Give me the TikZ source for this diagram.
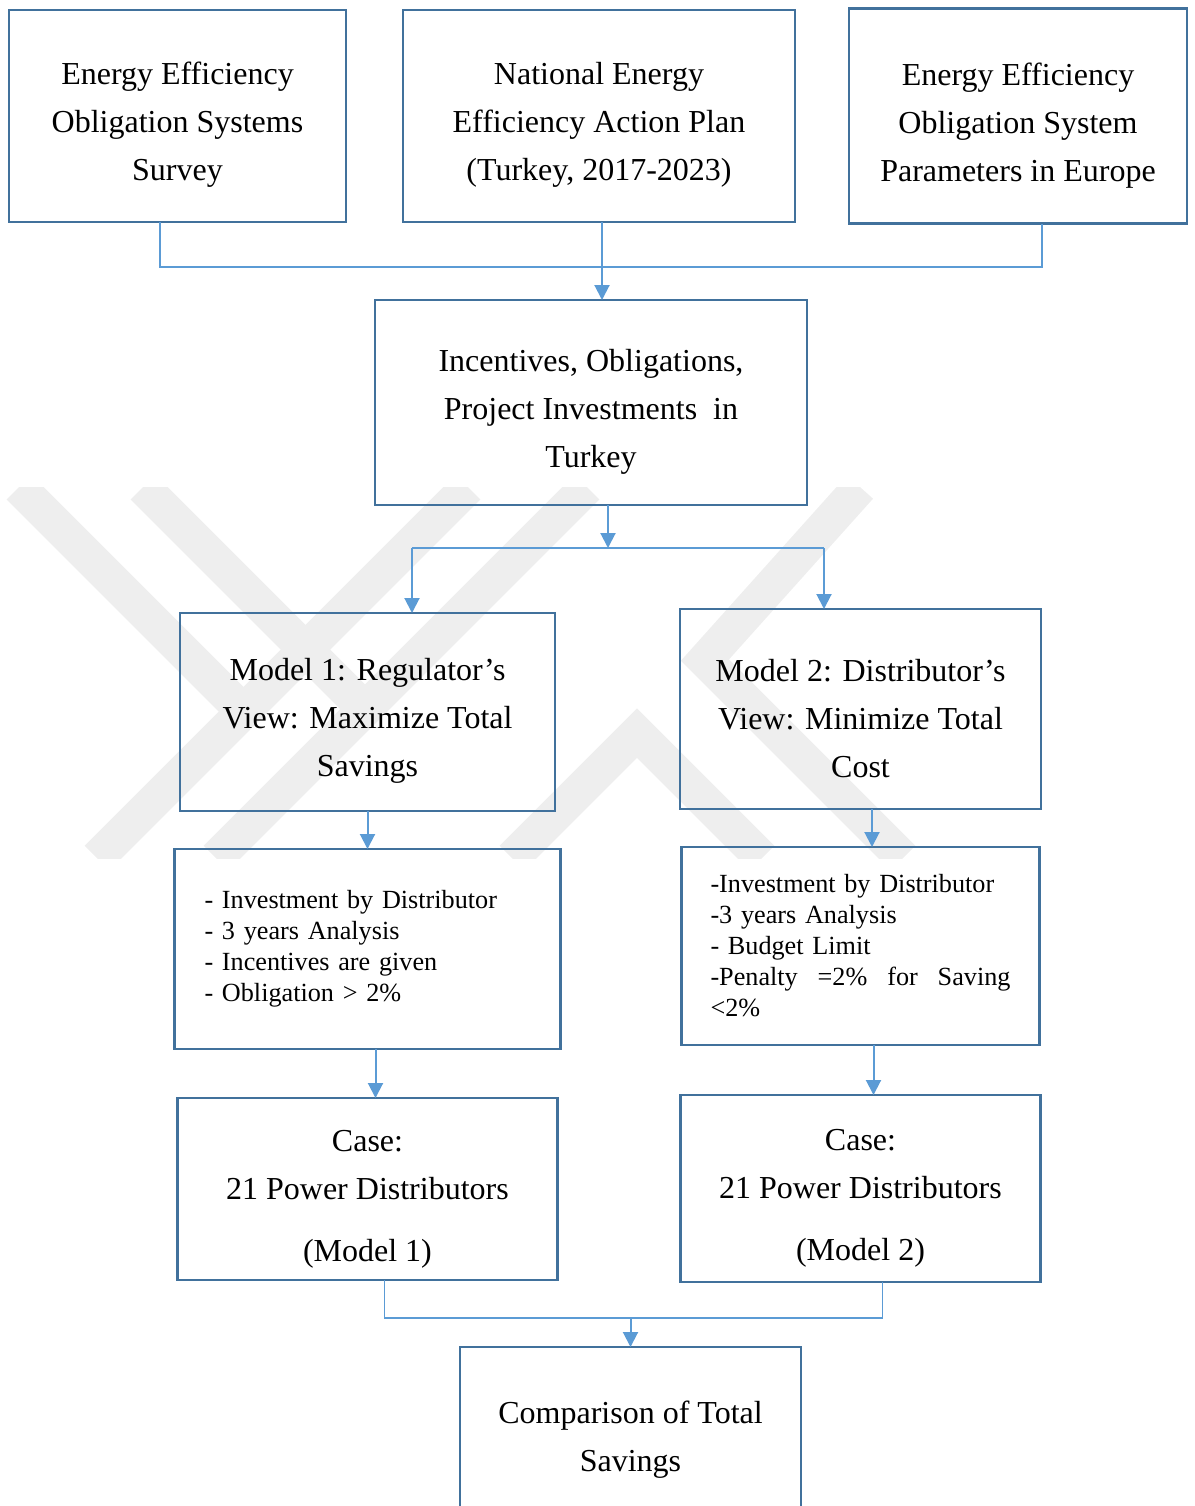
\documentclass[tikz,border=0pt]{standalone}
\usepackage{fontspec}
\setmainfont{Liberation Serif}
\usetikzlibrary{positioning,arrows.meta}
\definecolor{boxblue}{HTML}{41719C}
\definecolor{linkblue}{HTML}{5B9BD5}
\definecolor{markgray}{HTML}{EEEEEE}
\newcommand{\topgap}{\rule{0pt}{20.4pt}}

\begin{document}
\begin{tikzpicture}[
	every node/.style={align=center,
                        font=\fontsize{16pt}{24pt}\selectfont,
                        inner sep=2pt
                        },
	box/.style= {draw=boxblue,
                 line width=1.4pt,
                 outer sep=0pt
    },
	list/.style= {box,
                  align=left,
                  font=\fontsize{13.1pt}{15.5pt}\selectfont
    },
	link/.style= {draw=linkblue, line width=1pt, -{Triangle[width=7.5pt,length=7.5pt]}},
	tie/.style= {draw=linkblue, line width=0.6pt},
	band/.style= {draw=markgray, line width=17.5pt}
]
	\useasboundingbox (0,0) rectangle (597.5pt,-753pt);
    % watermark
    \begin{scope}[x=0.5pt, y=-0.5pt]
    \clip (0,487) rectangle (1195,858);
    \draw[band] (19,487) -- (240,708);
    \draw[band] (143,487) -- (365,709);
    \draw[band] (468,487) -- (97,858);
    \draw[band] (587,487) -- (216,858);
    \draw[band] (860,487) -- (705,660) -- (903,858);
    \draw[band] (512,858) -- (637,733) -- (762,858);
    \end{scope}
	\node (survey) [box, minimum width=168.5pt, minimum height=106pt, anchor=north west] at (4.5pt,-5pt) {\topgap Energy Efficiency\\ Obligation Systems\\ Survey};
    \node (plan) [box, minimum width=196pt, minimum height=106pt, right=28.5pt of survey] {\topgap National Energy\\ Efficiency Action Plan\\ (Turkey, 2017-2023)};
    \node (params) [box, minimum width=169pt, minimum height=107.5pt, right=27pt of plan] {\topgap Energy Efficiency\\ Obligation System\\ Parameters in Europe};
    \node (turkey) [box, minimum width=216pt, minimum height=102.5pt, below=39pt of plan, xshift=-4pt] {\topgap Incentives, Obligations,\\ Project Investments~ in\\ Turkey};
    \node (model1) [box, minimum width=187.5pt, minimum height=99pt, below=54pt of turkey, xshift=-111.75pt] {\topgap Model 1: Regulator's\\ View: Maximize Total\\ Savings};
    \node (model2) [box, minimum width=180.5pt, minimum height=100pt, right=62.5pt of model1, yshift=1.5pt] {\topgap Model 2: Distributor's\\ View: Minimize Total\\ Cost};
    \node (terms1) [list, minimum width=193pt, minimum height=100pt, text width=163pt, below=19pt of model1] {- Investment by Distributor\\ - 3 years Analysis\\ - Incentives are given\\ - Obligation > 2\%};
    \node (terms2) [list, minimum width=179pt, minimum height=99pt, text width=150pt, below=19pt of model2] {-Investment by Distributor\\ -3 years Analysis\\ - Budget Limit\\ -Penalty\hfill =2\%\hfill for\hfill Saving\\ <2\%};
    \node (case1) [box, minimum width=190pt, minimum height=91pt, below=24.5pt of terms1] {\topgap Case:\\ 21 Power Distributors\\[7pt] (Model 1)};
    \node (case2) [box, minimum width=180pt, minimum height=93.5pt, below=25pt of terms2] {\topgap Case:\\ 21 Power Distributors\\[7pt] (Model 2)};
    \node (compare) [box, minimum width=170.5pt, minimum height=83.5pt, anchor=north] at (315.25pt,-673.5pt) {\topgap Comparison of Total\\ Savings};
    % ports
    \coordinate (planout) at ([xshift=1.5pt]plan.south);
    \coordinate (fork) at ([xshift=8.5pt,yshift=-21.5pt]turkey.south);
    \coordinate (m1in) at ([xshift=22.25pt]model1.north);
    \coordinate (m2in) at ([xshift=-18.25pt]model2.north);
    \coordinate (m2out) at ([xshift=5.75pt]model2.south);
    \coordinate (t1out) at ([xshift=4pt]terms1.south);
    \coordinate (t2out) at ([xshift=6.5pt]terms2.south);
    \coordinate (merge) at ([yshift=-19pt]case1.south);
    % connectors
    \draw[tie] ([xshift=-8.75pt]survey.south) -- ++(0,-22.5pt) -| ([xshift=12pt]params.south);
    \draw[link] (planout) -- (planout |- turkey.north);
    \draw[link] ([xshift=8.5pt]turkey.south) -- (fork);
    \draw[tie] (m1in |- fork) -- (m2in |- fork);
    \draw[link] (m1in |- fork) -- (m1in);
    \draw[link] (m2in |- fork) -- (m2in);
    \draw[link] (model1.south) -- (model1.south |- terms1.north);
    \draw[link] (m2out) -- (m2out |- terms2.north);
    \draw[link] (t1out) -- (t1out |- case1.north);
    \draw[link] (t2out) -- (t2out |- case2.north);
    \draw[tie] ([xshift=8.5pt]case1.south) -- ++(0,-19pt) -| ([xshift=11pt]case2.south);
    \draw[link] (compare.north |- merge) -- (compare.north);
\end{tikzpicture}
\end{document}
